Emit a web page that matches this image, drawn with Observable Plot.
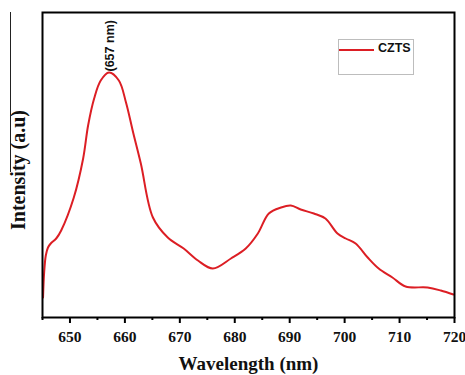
<!DOCTYPE html>
<html>
<head>
<meta charset="utf-8">
<script src="https://cdn.jsdelivr.net/npm/d3@7"></script>
<script src="https://cdn.jsdelivr.net/npm/@observablehq/plot@0.6"></script>
<style>
  html, body { margin: 0; padding: 0; background: #fff; }
  #wrap { position: relative; width: 465px; height: 375px; }
  #legend { position: absolute; left: 338px; top: 39px; width: 76px; height: 36px;
            border: 1px solid #bdbdbd; box-sizing: border-box; background: #fff; }
  #legend .ln { position: absolute; left: 0px; top: 9px; width: 35px; height: 2px; background: #dc1e24; }
  #legend .tx { position: absolute; left: 39px; top: 1px; font: bold 12.5px "Liberation Sans", Arial, sans-serif; color: #111; }
  #artifact { position: absolute; left: 10px; top: 12px; width: 1px; height: 160px; background: #222; }
</style>
</head>
<body>
<div id="wrap">
  <div id="artifact"></div>
  <div id="legend"><div class="ln"></div><div class="tx">CZTS</div></div>
</div>
<script>
const wavelength = [645.1, 645.3, 645.6, 646.0, 646.5, 647.5, 648.4, 650.7, 652.4, 653.3, 654.4, 655.6, 657.1, 658.9, 660.2, 661.5, 662.9, 665.1, 667.8, 670.7, 673.3, 676.0, 679.3, 682.0, 684.2, 686.2, 688.4, 690.2, 692.0, 694.4, 696.5, 698.7, 700.2, 702.0, 704.2, 706.2, 708.7, 711.1, 715.1, 717.5, 719.8];
const intensity  = [20, 45, 62, 70, 74, 79, 87, 120, 159, 192, 219, 237, 245, 237, 215, 185, 154, 100, 80, 69, 57, 49, 59, 69, 84, 104, 110, 112, 108, 104, 99, 84, 79, 74, 60, 49, 40, 31, 30, 27, 23];
const majorTicks = [650, 660, 670, 680, 690, 700, 710, 720];
const minorTicks = [645, 655, 665, 675, 685, 695, 705, 715];
const peakLabel = [{x: 657.1, y: 245, text: "(657 nm)"}];
const xLabel = "Wavelength (nm)";
const yLabel = "Intensity (a.u)";

const data = wavelength.map((w, i) => ({w, v: intensity[i]}));
const serif = "'Liberation Serif', 'Times New Roman', serif";

const chart = Plot.plot({
  width: 465,
  height: 375,
  marginLeft: 42,
  marginRight: 11,
  marginTop: 12,
  marginBottom: 58,
  x: {domain: [645, 720]},
  y: {domain: [0, 305], axis: null},
  style: {background: "#fff", overflow: "visible"},
  marks: [
    Plot.line(data, {x: "w", y: "v", stroke: "#dc1e24", strokeWidth: 2, curve: "catmull-rom"}),
    Plot.axisX({ticks: minorTicks, tickSize: 3, text: null, stroke: "#000", strokeWidth: 2, label: null}),
    Plot.axisX({ticks: majorTicks, tickSize: 6, tickPadding: 7, stroke: "#000", strokeWidth: 2,
                fontSize: 15.5, fontWeight: "bold", fontFamily: serif, fill: "#111", label: null,
                tickFormat: d => String(d)}),
    Plot.frame({stroke: "#000", strokeWidth: 2}),
    Plot.text(peakLabel, {x: "x", y: "y", text: "text", rotate: -90, textAnchor: "start", lineAnchor: "middle",
                dx: 1, dy: -1, fontSize: 12.5, fontWeight: "bold", fontFamily: "'Liberation Sans', Arial, sans-serif", fill: "#111"}),
    Plot.text([xLabel], {frameAnchor: "bottom", dy: 46, textAnchor: "middle", lineAnchor: "middle", fontSize: 19, fontWeight: "bold", fontFamily: serif, fill: "#111"}),
    Plot.text([yLabel], {frameAnchor: "left", dx: -24, dy: 5, rotate: -90, textAnchor: "middle", lineAnchor: "middle", fontSize: 20, fontWeight: "bold", fontFamily: serif, fill: "#111"})
  ]
});
document.getElementById("wrap").prepend(chart);
</script>
</body>
</html>
